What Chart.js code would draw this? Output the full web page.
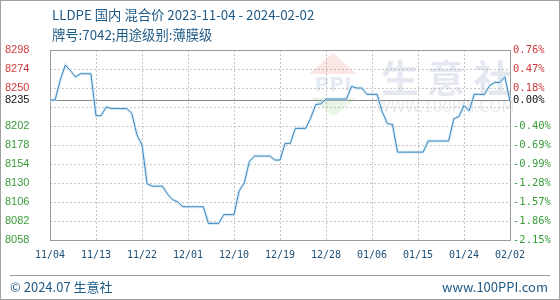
<!DOCTYPE html>
<html>
<head>
<meta charset="utf-8">
<script src="https://cdn.jsdelivr.net/npm/chart.js@4/dist/chart.umd.min.js"></script>
<style>
  body { margin: 0; background: #fff; }
  #wrap { position: relative; width: 560px; height: 300px; overflow: hidden; background: #fff; }
  #wrap canvas { position: absolute; left: 0; top: 0; }
  .txt { position: absolute; white-space: nowrap; font-family: "Noto Sans CJK SC", "Noto Sans", sans-serif; color: #1f5a86; }
  #frame { position: absolute; left: 0; top: 0; width: 558px; height: 298px; border: 1px solid #a0a0a0; pointer-events: none; }
  #rule { position: absolute; left: 10px; top: 275px; width: 540px; height: 1px; background: #9a9a9a; }
</style>
</head>
<body>
<div id="wrap">
  <canvas id="priceChart" width="560" height="300"></canvas>
  <div class="txt" style="left:52px;top:5px;font-size:13.3px;">LLDPE 国内 混合价 2023-11-04 - 2024-02-02</div>
  <div class="txt" style="left:52px;top:25px;font-size:13.3px;">牌号:7042;用途级别:薄膜级</div>
  <div id="rule"></div>
  <div class="txt" style="left:10px;top:277px;font-size:13px;">© 2024.07 生意社</div>
  <div class="txt" style="right:12px;top:277px;font-size:13px;">www.100PPI.com</div>
  <div id="frame"></div>
</div>
<script>
// Data (daily, 2023-11-04 .. 2024-02-02)
const startDay = new Date(2023, 10, 4);
const prices = [
  8235, 8235, 8260, 8279, 8272, 8264, 8268, 8268, 8268, 8215,
  8215, 8226, 8224, 8224, 8224, 8224, 8218, 8191, 8178, 8129,
  8126, 8126, 8126, 8116, 8109, 8106, 8100, 8100, 8100, 8100,
  8100, 8079, 8079, 8079, 8090, 8090, 8090, 8120, 8130, 8157,
  8164, 8164, 8164, 8164, 8159, 8159, 8180, 8180, 8199, 8199,
  8199, 8212, 8229, 8230, 8236, 8236, 8236, 8236, 8236, 8252,
  8250, 8250, 8242, 8242, 8242, 8220, 8205, 8204, 8169, 8169,
  8169, 8169, 8169, 8169, 8183, 8183, 8183, 8183, 8183, 8211,
  8214, 8228, 8221, 8242, 8242, 8242, 8253, 8257, 8257, 8264,
  8233
];
const baseValue = 8235;
const yTickValues = [8298, 8274, 8250, 8235, 8226, 8202, 8178, 8154, 8130, 8106, 8082, 8058];
const leftTickLabels = ['8298', '8274', '8250', '8235', '', '8202', '8178', '8154', '8130', '8106', '8082', '8058'];
const rightTickLabels = ['0.76%', '0.47%', '0.18%', '0.00%', '', '-0.40%', '-0.69%', '-0.99%', '-1.28%', '-1.57%', '-1.86%', '-2.15%'];
const xTickStep = 9;

const labels = prices.map((p, i) => {
  const d = new Date(startDay.getTime() + i * 86400000);
  return String(d.getMonth() + 1).padStart(2, '0') + '/' + String(d.getDate()).padStart(2, '0');
});

const upColor = '#d03a3a';
const downColor = '#3a9a3a';
function tickColor(ctx) {
  const v = ctx.tick ? ctx.tick.value : baseValue;
  if (v > baseValue) return upColor;
  if (v < baseValue) return downColor;
  return '#111';
}
function fixedTicks(scale) {
  scale.ticks = yTickValues.map(v => ({ value: v }));
}

// dotted grid, watermark, base line and plot frame
const decor = {
  id: 'decor',
  beforeDatasetsDraw(chart) {
    const c = chart.ctx;
    const a = chart.chartArea;
    const xs = chart.scales.x, ys = chart.scales.y;
    c.save();
    // grid
    c.strokeStyle = '#c4c4c4';
    c.lineWidth = 1;
    c.setLineDash([2, 2]);
    xs.ticks.forEach(t => {
      const x = Math.round(xs.getPixelForValue(t.value)) + 0.5;
      c.beginPath(); c.moveTo(x, a.top); c.lineTo(x, a.bottom); c.stroke();
    });
    ys.ticks.forEach(t => {
      if (t.value === baseValue) return;
      const y = Math.round(ys.getPixelForValue(t.value)) + 0.5;
      c.beginPath(); c.moveTo(a.left, y); c.lineTo(a.right, y); c.stroke();
    });
    c.setLineDash([]);
    // watermark
    c.fillStyle = 'rgba(225,120,110,0.18)';
    c.beginPath(); c.moveTo(309, 74); c.lineTo(333, 53); c.lineTo(357, 74); c.closePath(); c.fill();
    c.fillStyle = 'rgba(120,200,120,0.18)';
    c.beginPath(); c.moveTo(311, 98); c.lineTo(357, 98); c.lineTo(334, 116); c.closePath(); c.fill();
    c.fillStyle = 'rgba(110,140,200,0.18)';
    c.font = 'bold 20px "DejaVu Sans"';
    c.textAlign = 'center'; c.textBaseline = 'middle';
    c.fillText('PPI', 333, 86);
    c.fillStyle = 'rgba(170,180,205,0.3)';
    c.font = 'bold 38px "Noto Sans CJK SC"';
    c.fillText('生', 400, 78); c.fillText('意', 446, 78); c.fillText('社', 493, 78);
    c.font = '15px "DejaVu Sans"';
    c.fillStyle = 'rgba(190,195,205,0.35)';
    c.fillText('WWW.100PPI.COM', 445, 108);
    // base line and frame
    const y = ys.getPixelForValue(baseValue);
    c.strokeStyle = '#8a8a8a';
    c.beginPath(); c.moveTo(a.left, Math.round(y) + 0.5); c.lineTo(a.right, Math.round(y) + 0.5); c.stroke();
    c.strokeStyle = '#9a9a9a';
    c.strokeRect(Math.round(a.left) + 0.5, Math.round(a.top) + 0.5, Math.round(a.right - a.left), Math.round(a.bottom - a.top));
    c.restore();
  }
};

const ctx = document.getElementById('priceChart').getContext('2d');
const priceChart = new Chart(ctx, {
  type: 'line',
  data: {
    labels: labels,
    datasets: [{
      data: prices,
      borderColor: '#3f85b7',
      borderWidth: 1,
      pointRadius: 0,
      tension: 0,
      order: 1
    }, {
      data: prices,
      borderColor: 'rgba(200,230,248,0.7)',
      borderWidth: 3,
      pointRadius: 0,
      tension: 0,
      order: 2
    }]
  },
  options: {
    responsive: false,
    animation: false,
    events: [],
    layout: { padding: { left: 5, right: 0, top: 50, bottom: 34 } },
    plugins: { legend: { display: false }, tooltip: { enabled: false } },
    scales: {
      x: {
        offset: false,
        afterBuildTicks: scale => { scale.ticks = scale.ticks.filter(t => t.value % xTickStep === 0); },
        afterFit: scale => { scale.height = 26; },
        grid: { display: false, drawTicks: false },
        border: { display: false },
        ticks: { autoSkip: false, maxRotation: 0, padding: 9, color: '#1d4f78', font: { family: '"DejaVu Sans Mono"', size: 10 } }
      },
      y: {
        min: 8058, max: 8298,
        afterBuildTicks: fixedTicks,
        afterFit: scale => { scale.width = 45; },
        grid: { display: false, drawTicks: false },
        border: { display: false },
        ticks: {
          crossAlign: 'far',
          color: tickColor,
          font: { family: '"Liberation Sans", Arial', size: 11 },
          callback: v => leftTickLabels[yTickValues.indexOf(v)]
        }
      },
      y1: {
        position: 'right',
        min: 8058, max: 8298,
        afterBuildTicks: fixedTicks,
        afterFit: scale => { scale.width = 50; },
        grid: { display: false, drawTicks: false },
        border: { display: false },
        ticks: {
          padding: 3,
          color: tickColor,
          font: { family: '"DejaVu Sans Mono"', size: 10.5 },
          callback: v => rightTickLabels[yTickValues.indexOf(v)]
        }
      }
    }
  },
  plugins: [decor]
});
</script>
</body>
</html>
